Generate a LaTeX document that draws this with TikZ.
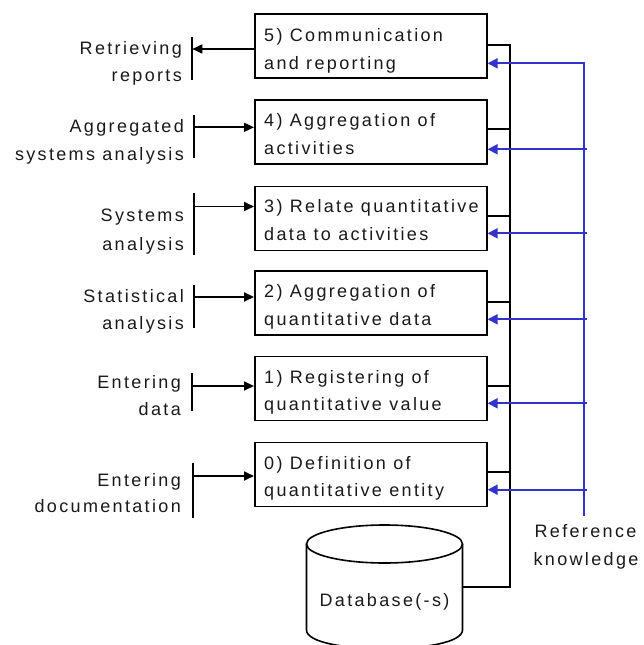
\documentclass[tikz,border=0pt]{standalone}
\usepackage{fontspec}
\setmainfont{Liberation Sans}[LetterSpace=13]
\usetikzlibrary{arrows.meta}
\definecolor{refblue}{RGB}{51,51,204}
\definecolor{ink}{RGB}{25,25,25}
\begin{document}
\begin{tikzpicture}[x=1pt,y=-1pt,
  box/.style={draw, line width=1.6pt, minimum width=232pt, minimum height=64pt, inner sep=0pt, anchor=north west},
  txt/.style={font=\fontsize{18}{21}\selectfont, text=ink, inner sep=0pt},
  lbl/.style={txt, anchor=base east},
  btxt/.style={txt, anchor=base west},
  bar/.style={line width=1.9pt},
  arr/.style={line width=1.7pt, -{Triangle[length=10pt,width=9pt]}},
  stub/.style={line width=1.7pt},
  bus/.style={line width=2.5pt, line join=miter},
  blu/.style={refblue, line width=1.9pt, -{Triangle[length=10pt,width=10pt]}},
  cyl/.style={line width=1.6pt}]
\useasboundingbox (0,0) rectangle (643,645);

% ---- boxes ----
\node[box] (b5) at (254,13.3) {};
\node[box] (b4) at (254,99) {};
\node[box] (b3) at (254,185.5) {};
\node[box] (b2) at (254,270) {};
\node[box] (b1) at (254,355.7) {};
\node[box] (b0) at (254,441.7) {};

\node[btxt] (t5a) at (264,41.5) {5) Communication};
\node[btxt] (t5b) at (264,69.3) {and reporting};
\node[btxt] (t4a) at (264,126.5) {4) Aggregation of};
\node[btxt] (t4b) at (264,154.3) {activities};
\node[btxt] (t3a) at (264,212.3) {3) Relate quantitative};
\node[btxt] (t3b) at (264,240) {data to activities};
\node[btxt] (t2a) at (264,297.3) {2) Aggregation of};
\node[btxt] (t2b) at (264,325) {quantitative data};
\node[btxt] (t1a) at (264,383) {1) Registering of};
\node[btxt] (t1b) at (264,410.7) {quantitative value};
\node[btxt] (t0a) at (264,469) {0) Definition of};
\node[btxt] (t0b) at (264,496.7) {quantitative entity};

% ---- left labels ----
\node[lbl] (l5a) at (182,54) {Retrieving};
\node[lbl] (l5b) at (182,81.5) {reports};
\node[lbl] (l4a) at (184,132.3) {Aggregated};
\node[lbl] (l4b) at (184,160) {systems analysis};
\node[lbl] (l3a) at (184,221.7) {Systems};
\node[lbl] (l3b) at (184,250.7) {analysis};
\node[lbl] (l2a) at (184,302.7) {Statistical};
\node[lbl] (l2b) at (184,329.3) {analysis};
\node[lbl] (l1a) at (181,388) {Entering};
\node[lbl] (l1b) at (181,415) {data};
\node[lbl] (l0a) at (181,486.7) {Entering};
\node[lbl] (l0b) at (181,512.7) {documentation};

% ---- bars and arrows on the left ----
\draw[bar] (192.3,37) -- (192.3,80);
\draw[bar] (194,115) -- (194,157.7);
\draw[bar] (194,193.3) -- (194,255.3);
\draw[bar] (194,285) -- (194,328.3);
\draw[bar] (192.3,373.3) -- (192.3,410.7);
\draw[bar] (192.7,462.7) -- (192.7,518);

\coordinate (p5) at (192.3,49);
\coordinate (p4) at (194,127.3);
\coordinate (p3) at (194,206.5);
\coordinate (p2) at (194,297);
\coordinate (p1) at (192.3,386);
\coordinate (p0) at (192.7,476);
\draw[arr] (b5.west |- p5) -- (p5);
\draw[arr] (p4) -- (b4.west |- p4);
\draw[arr] (p3) -- (b3.west |- p3);
\draw[arr] (p2) -- (b2.west |- p2);
\draw[arr] (p1) -- (b1.west |- p1);
\draw[arr] (p0) -- (b0.west |- p0);

% ---- database ----
\draw[cyl] (384.5,544) ellipse [x radius=78, y radius=19];
\draw[cyl] (306.5,544) -- (306.5,630) .. controls (306.5,655) and (462.5,655) .. (462.5,630) -- (462.5,544);
\node[txt, anchor=base] (db) at (384.5,606) {Database(-s)};
\coordinate (dbside) at (462.5,587);

% ---- black bus ----
\coordinate (s5) at (510,45);
\coordinate (s4) at (510,129.3);
\coordinate (s3) at (510,216);
\coordinate (s2) at (510,301.7);
\coordinate (s1) at (510,385.7);
\coordinate (s0) at (510,472.3);
\draw[bus] (b5.east |- s5) -- (s5) -- (510,587) -- (dbside);
\draw[stub] (b4.east |- s4) -- (s4);
\draw[stub] (b3.east |- s3) -- (s3);
\draw[stub] (b2.east |- s2) -- (s2);
\draw[stub] (b1.east |- s1) -- (s1);
\draw[stub] (b0.east |- s0) -- (s0);

% ---- blue reference knowledge ----
\coordinate (r5) at (584.3,63.3);
\coordinate (r4) at (587,149.3);
\coordinate (r3) at (587,233.3);
\coordinate (r2) at (587,319.3);
\coordinate (r1) at (587,403.3);
\coordinate (r0) at (587,489.7);
\coordinate (rb) at (584.3,516);
\draw[blu] (rb) -- (r5) -- (b5.east |- r5);
\draw[blu] (r4) -- (b4.east |- r4);
\draw[blu] (r3) -- (b3.east |- r3);
\draw[blu] (r2) -- (b2.east |- r2);
\draw[blu] (r1) -- (b1.east |- r1);
\draw[blu] (r0) -- (b0.east |- r0);
\node[txt, anchor=base] (rk1) at (585.5,537.7) {Reference};
\node[txt, anchor=base] (rk2) at (586,565) {knowledge};
\end{tikzpicture}
\end{document}
